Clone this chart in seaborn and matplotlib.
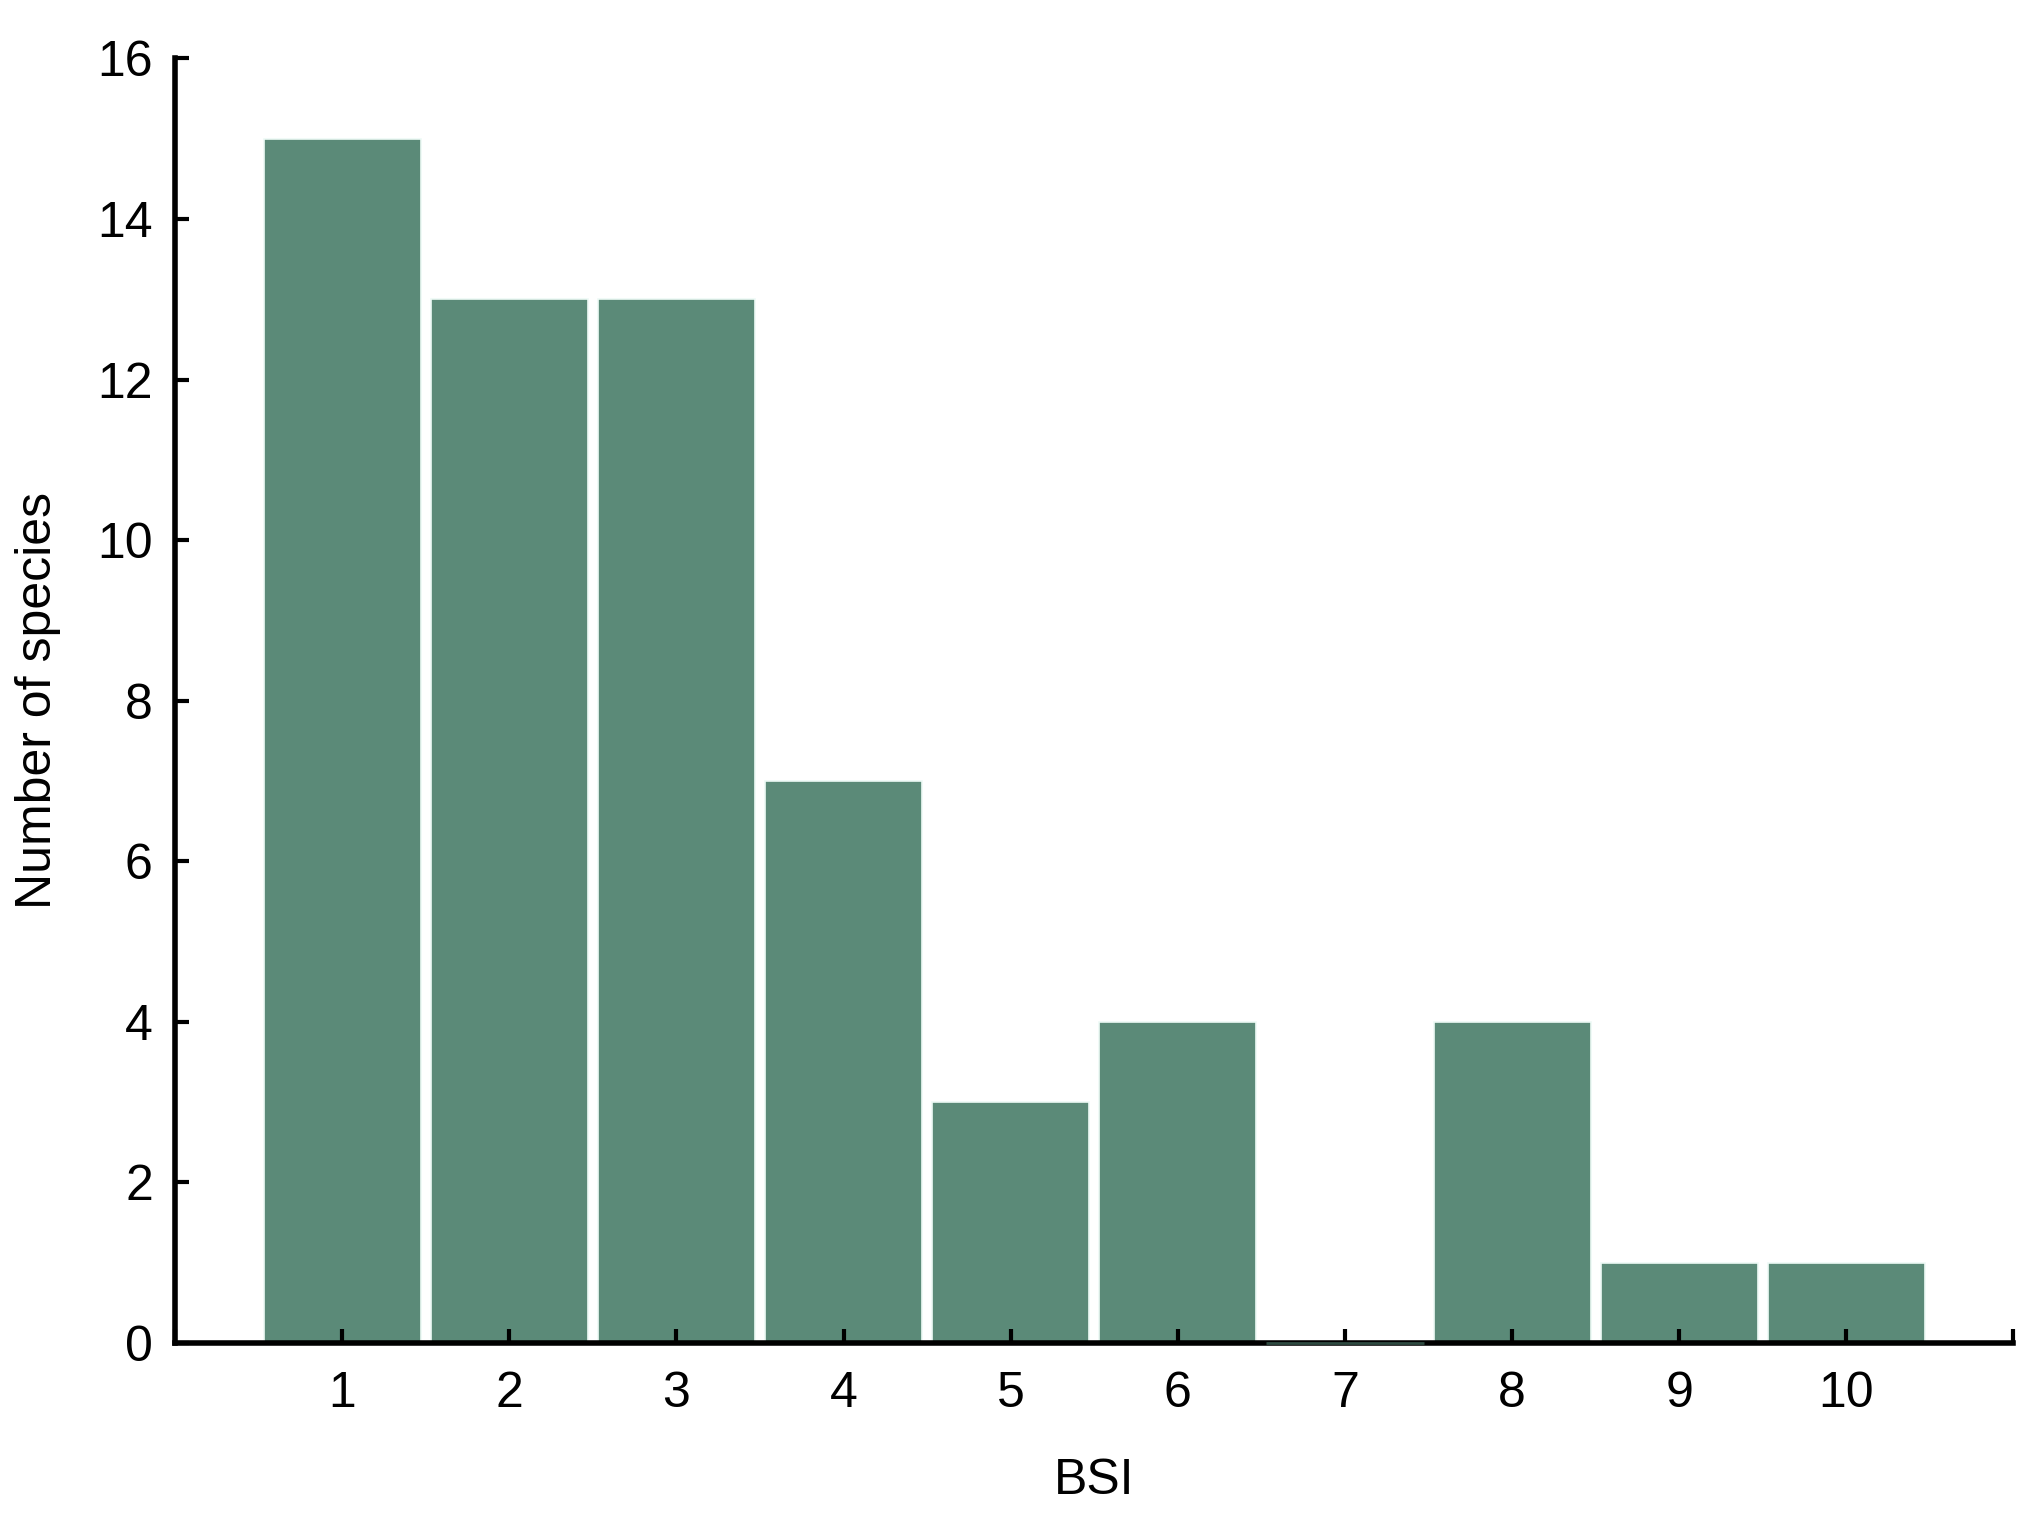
import numpy as np
import pandas as pd
import matplotlib
matplotlib.use("Agg")
import matplotlib.pyplot as plt
import seaborn as sns

# values
bsi = [1, 2, 3, 4, 5, 6, 7, 8, 9, 10]
n_species = [15, 13, 13, 7, 3, 4, 0, 4, 1, 1]
bar_color = "#5b8a78"

df = pd.DataFrame({"BSI": bsi, "Number of species": n_species})

sns.set_style("white")
plt.rcParams['font.family'] = ['Liberation Sans', 'DejaVu Sans']
plt.rcParams['xtick.direction'] = 'in'
plt.rcParams['ytick.direction'] = 'in'
plt.rcParams['xtick.bottom'] = True
plt.rcParams['ytick.left'] = True

fig = plt.figure(figsize=(20.4, 15.19), dpi=100)
ax = fig.add_axes([0.0858, 0.1159, 0.9012, 0.8456])

sns.barplot(
    data=df, x="BSI", y="Number of species",
    native_scale=True, width=0.94,
    color=bar_color, saturation=1,
    edgecolor="#eefaf6", linewidth=1.2, ax=ax
)

# the empty class (BSI = 7) still shows a thin bar outline on the axis
for p in ax.patches:
    if p.get_height() == 0:
        p.set_edgecolor("#2e4a40")
        p.set_linewidth(2)
        p.set_clip_on(False)
        p.set_zorder(5)

ax.set_xlim(0, 11)
ax.set_ylim(0, 16)
ax.set_xticks(range(0, 12))
ax.set_xticklabels([""] + [str(b) for b in bsi] + [""])
ax.set_yticks(range(0, 17, 2))
ax.set_axisbelow(False)  # tick marks sit on top of the bars

sns.despine(ax=ax)
for s in ["left", "bottom"]:
    ax.spines[s].set_linewidth(4)
    ax.spines[s].set_color("black")

ax.tick_params(axis="x", direction="in", length=10, width=3, pad=20,
               labelsize=36, color="black", labelcolor="black")
ax.tick_params(axis="y", direction="in", length=10, width=3, pad=16,
               labelsize=36, color="black", labelcolor="black")

ax.set_xlabel("BSI", fontsize=36, labelpad=30, color="black")
ax.set_ylabel("Number of species", fontsize=36, labelpad=26, color="black")

plt.savefig("out.png", dpi=100)
